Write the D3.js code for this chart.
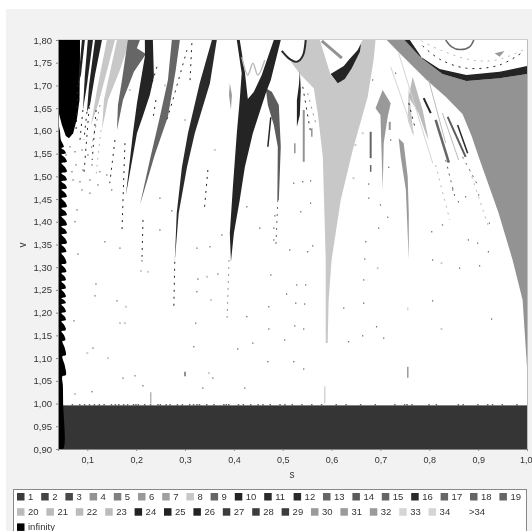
<!DOCTYPE html>
<html>
<head>
<meta charset="utf-8">
<script src="https://cdn.jsdelivr.net/npm/d3@7"></script>
<style>
  html, body { margin: 0; padding: 0; background: #fff; overflow: hidden; }
  svg { display: block; filter: blur(0.45px); }
  text { font-family: "Liberation Sans", Arial, sans-serif; fill: #333; }
</style>
</head>
<body>
<div id="chart"></div>
<script>
// legend entries, grey per escape-time level
var levelLabels = ["1","2","3","4","5","6","7","8","9","10","11","12","13","14","15","16","17","18","19",
  "20","21","22","23","24","25","26","27","28","29","30","31","32","33","34",">34","infinity"];
var levelGreys = ["#3c3c3c","#444444","#484848","#939393","#808080","#999999","#a0a0a0","#c8c8c8","#666666","#242424",
  "#2a2a2a","#2a2a2a","#666666","#5c5c5c","#666666","#2a2a2a","#666666","#666666","#666666",
  "#bbbbbb","#bbbbbb","#bbbbbb","#bbbbbb","#222222","#222222","#222222","#3c3c3c","#3c3c3c","#3c3c3c",
  "#9a9a9a","#9a9a9a","#9a9a9a","#d5d5d5","#d5d5d5","#ffffff","#000000"];

var sTicks = [0.1, 0.2, 0.3, 0.4, 0.5, 0.6, 0.7, 0.8, 0.9, 1.0];
var vTicks = [0.9, 0.95, 1.0, 1.05, 1.1, 1.15, 1.2, 1.25, 1.3, 1.35, 1.4, 1.45, 1.5, 1.55, 1.6, 1.65, 1.7, 1.75, 1.8];

// filled regions of the (s, v) plane
var infinityBlob = [[.04,1.8],[.085,1.8],[.085,1.756],[.084,1.668],[.079,1.628],[.071,1.595],[.0625,1.584],[.056,1.589],[.048,1.613],[.04,1.646]];
var stripeA = [[.1157,1.8],[.13,1.8],[.1157,1.723],[.1055,1.657],[.0993,1.642],[.1034,1.699]];
var stripeB = [[.089,1.8],[.095,1.8],[.087,1.723],[.081,1.701]];
var stripeC = [[.101,1.8],[.1116,1.8],[.0993,1.701],[.091,1.646],[.095,1.723]];
var lightWedge1 = [[.14,1.8],[.1566,1.8],[.138,1.723],[.1218,1.657],[.1075,1.613],[.1197,1.69]];
var lightWedge2 = [[.1607,1.8],[.187,1.8],[.1668,1.734],[.1423,1.668],[.13,1.602],[.134,1.668]];
var greyWedge1 = [[.183,1.8],[.2077,1.8],[.2015,1.782],[.22,1.769],[.1954,1.73],[.173,1.668],[.1607,1.602],[.1627,1.657],[.171,1.712]];
var darkWedge1 = [[.2178,1.8],[.2342,1.8],[.2363,1.719],[.228,1.679],[.2138,1.633],[.2016,1.595],[.179,1.459],[.1934,1.595],[.2016,1.661],[.218,1.765]];
var greyWedge2 = [[.273,1.8],[.2895,1.8],[.281,1.734],[.265,1.631],[.238,1.547],[.2077,1.437],[.228,1.536],[.2486,1.631],[.265,1.712]];
var darkWedge2 = [[.355,1.8],[.365,1.8],[.351,1.705],[.32,1.595],[.304,1.52],[.287,1.419],[.279,1.312],[.283,1.419],[.2936,1.52],[.306,1.595],[.33,1.705]];
var darkArch = [[.406,1.8],[.412,1.8],[.4224,1.73],[.4286,1.67],[.441,1.686],[.457,1.723],[.4817,1.8],[.496,1.8],[.4756,1.712],[.4653,1.683],
  [.4388,1.595],[.4224,1.52],[.412,1.448],[.40,1.375],[.394,1.312],[.3917,1.375],[.398,1.477],[.406,1.595],[.412,1.668],[.416,1.727]];
var greyWedge3 = [[.4653,1.694],[.4776,1.686],[.492,1.657],[.496,1.565],[.492,1.448],[.489,1.448],[.4899,1.565],[.4817,1.613],[.4695,1.657]];
var smallWedge = [[.3917,1.705],[.396,1.679],[.394,1.646],[.39,1.679]];
var needle = [[.535,1.732],[.537,1.69],[.535,1.635],[.529,1.609],[.529,1.668],[.533,1.70]];
var lightBasin = [[.5165,1.752],[.529,1.749],[.541,1.765],[.547,1.8],[.576,1.8],[.598,1.723],[.6126,1.705],[.637,1.738],[.6596,1.793],[.6637,1.8],[.69,1.8],
  [.686,1.756],[.674,1.675],[.6433,1.558],[.6187,1.448],[.6,1.316],[.594,1.228],[.592,1.133],[.588,1.133],[.588,1.316],[.582,1.543],[.5717,1.639],[.5635,1.694],[.537,1.723]];
var darkBlob = [[.598,1.725],[.625,1.743],[.635,1.756],[.6535,1.778],[.66,1.791],[.658,1.774],[.6413,1.738],[.627,1.714],[.6126,1.705]];
var midWedge = [[.7046,1.69],[.721,1.661],[.7149,1.631],[.7067,1.573],[.7046,1.47],[.7,1.635],[.69,1.65]];
var lowerWedge = [[.7373,1.584],[.7476,1.573],[.7558,1.499],[.758,1.419],[.758,1.316],[.752,1.47],[.7415,1.543]];
var cluster1 = [[.766,1.719],[.7864,1.646],[.7987,1.58],[.7926,1.595],[.778,1.639],[.7578,1.675]];
var cluster2 = [[.7578,1.697],[.768,1.587],[.7558,1.624]];
var bigGrey = [[.7128,1.8],[.76,1.8],[.7864,1.758],[.827,1.725],[.876,1.71],[.944,1.716],[1,1.725],[1,1.08],[.991,1.228],[.9705,1.316],[.942,1.419],
  [.901,1.543],[.8866,1.589],[.868,1.637],[.8335,1.675],[.7967,1.71],[.7394,1.771]];
var darkArc = [[.7496,1.8],[.78,1.765],[.821,1.736],[.876,1.723],[.944,1.73],[1,1.743],[1,1.725],[.944,1.716],[.876,1.71],[.827,1.725],[.7864,1.758],[.76,1.8]];
var smallTriangle = [[.9337,1.771],[.954,1.776],[.944,1.763]];

var regions = [
  [lightWedge1, 8], [lightWedge2, 8], [stripeA, 24], [stripeB, 24], [stripeC, 24], [greyWedge1, 9], [darkWedge1, 10],
  [greyWedge2, 13], [darkWedge2, 16], [greyWedge3, 14], [darkArch, 10], [smallWedge, 6], [lightBasin, 8], [darkBlob, 10],
  [needle, 10], [midWedge, 6], [lowerWedge, 6], [cluster2, 8], [cluster1, 20], [bigGrey, 4], [darkArc, 10], [smallTriangle, 6]
];

// scallops along the left edge: tip height and tip reach
var scallopV = [1.565,1.551,1.532,1.51,1.492,1.474,1.455,1.433,1.415,1.393,1.375,1.353,1.334,1.309,1.29,1.272,1.254,1.235,1.221,1.202,1.184,1.162,1.14,1.107,1.063];
var scallopS = [.052,.056,.058,.058,.058,.058,.058,.058,.058,.058,.058,.058,.057,.057,.057,.056,.056,.056,.056,.056,.056,.056,.055,.056,.056];

// thin curves: [level, width, points]
var thinCurves = [
  [11, 2, [[.498,1.776],[.5144,1.758],[.529,1.752],[.541,1.765],[.547,1.8]]],
  [13, 1.5, [[.8335,1.8],[.846,1.785],[.862,1.779],[.8825,1.785],[.891,1.8]]],
  [20, 1.5, [[.4163,1.763],[.4286,1.723],[.439,1.749],[.449,1.723],[.4633,1.756]]]
];
var thinLines = [
  [4, 3, [[.58,1.798],[.621,1.76]]],
  [10, 2, [[.7885,1.672],[.803,1.639]]],
  [13, 2.5, [[.813,1.624],[.84,1.53]]],
  [14, 2, [[.8376,1.631],[.8744,1.543]]],
  [16, 1.5, [[.858,1.613],[.8785,1.551]]],
  [33, 1, [[.721,1.741],[.768,1.595]]],
  [33, 1, [[.7373,1.771],[.807,1.529]]],
  [20, 1, [[.7987,1.712],[.8335,1.573]]],
  [20, 1, [[.827,1.639],[.8601,1.536]]],
  [4, 2, [[.719,1.62],[.719,1.602]]],
  [13, 2, [[.68,1.598],[.68,1.54]]],
  [13, 1.5, [[.68,1.525],[.68,1.51]]],
  [8, 1, [[.756,1.212],[.756,1.205]]],
  [6, 1.5, [[.756,1.081],[.756,1.057]]],
  [33, 1.5, [[.586,1.038],[.586,1]]],
  [4, 2, [[.543,1.646],[.543,1.532]]],
  [4, 1.5, [[.5595,1.606],[.5595,1.587]]],
  [4, 1.5, [[.5247,1.573],[.5247,1.551]]],
  [10, 1.5, [[.4756,1.63],[.4695,1.565]]],
  [4, 1, [[.23,1.025],[.23,1]]],
  [10, 1, [[.3,1.07],[.3,1.06]]]
];

// dotted curves between the wedges
var dottedLines = [
  [10, [[.0993,1.642],[.093,1.58]]],
  [10, [[.081,1.701],[.077,1.602]]],
  [10, [[.091,1.646],[.085,1.58]]],
  [4, [[.126,1.657],[.1075,1.558]]],
  [10, [[.1566,1.58],[.146,1.485]]],
  [10, [[.177,1.573],[.171,1.382]]],
  [10, [[.214,1.404],[.212,1.323]]],
  [10, [[.304,1.778],[.275,1.668],[.263,1.624]]],
  [10, [[.3468,1.514],[.34,1.433]]],
  [10, [[.314,1.793],[.31,1.705]]],
  [10, [[.2425,1.741],[.222,1.668]]],
  [10, [[.2404,1.668],[.234,1.624]]],
  [10, [[.279,1.312],[.277,1.206]]],
  [6, [[.39,1.316],[.386,1.184]]],
  [13, [[.49,1.448],[.486,1.349]]],
  [10, [[.105,1.668],[.093,1.505]]],
  [10, [[.118,1.646],[.11,1.536]]],
  [20, [[.128,1.602],[.118,1.503]]],
  [9, [[.868,1.543],[.901,1.477]]],
  [9, [[.8335,1.536],[.854,1.448]]],
  [20, [[.813,1.525],[.842,1.404]]],
  [20, [[.8825,1.514],[.9235,1.382]]],
  [10, [[.541,1.697],[.5574,1.595]]],
  [4, [[.551,1.683],[.5676,1.617]]],
  [10, [[.758,1.661],[.772,1.602]]],
  [10, [[.7864,1.787],[.821,1.758],[.876,1.738],[.944,1.745],[.995,1.776]]],
  [20, [[.784,1.798],[.827,1.776],[.8866,1.756],[.938,1.756],[1,1.782]]]
];

// isolated points
var darkSpecks = [[.0727,1.182],[.1095,1.026],[.2138,1.039],[.1975,1.061],[.173,1.056],[.1116,1.122],[.1177,1.263],[.1157,1.237],[.1607,1.226],[.2118,1.314],
  [.3263,1.274],[.3672,1.285],[.3243,1.246],[.322,1.177],[.318,1.125],[.408,1.12],[.4388,1.133],[.4265,1.191],[.357,1.056],[.3365,1.034],[.4224,1.034],
  [.4756,1.283],[.5288,1.261],[.547,1.261],[.508,1.241],[.5267,1.221],[.545,1.219],[.4715,1.213],[.5247,1.171],[.543,1.164],[.4715,1.164],[.504,1.14],
  [.4695,1.092],[.5226,1.092],[.543,1.076],[.6658,1.272],[.6658,1.221],[.625,1.21],[.635,1.136],[.6637,1.149],[.692,1.169],[.7067,1.144],[.8069,1.226],
  [.9275,1.186],[.862,1.298],[.903,1.303],[.8069,1.316],[.537,1.422],[.557,1.441],[.5144,1.338],[.551,1.334],[.5615,1.347],[.4817,1.36],[.4817,1.386],
  [.484,1.413],[.5226,1.485],[.541,1.488],[.557,1.49],[.676,1.483],[.676,1.452],[.7,1.437],[.715,1.41],[.6964,1.386],[.67,1.356],[.668,1.318],[.805,1.378],
  [.827,1.393],[.88,1.36],[.899,1.353],[.921,1.334],[.923,1.397],[.901,1.459],[.8744,1.455],[.848,1.47],[.8597,1.444],[.684,1.712],[.731,1.727],[.721,1.58],
  [.717,1.52],[.0789,1.426],[.0748,1.4],[.136,1.356],[.1668,1.342],[.081,1.329],[.2486,1.382],[.273,1.424],[.3754,1.371],[.351,1.345],[.3243,1.342],[.453,1.386],
  [.4265,1.433],[.2486,1.452],[.1054,1.463],[.089,1.47],[.0707,1.492],[.0645,1.565],[.0748,1.554],[.089,1.558],[.1013,1.547],[.0768,1.525],[.0911,1.514],
  [.1095,1.525],[.1259,1.51],[.0686,1.51],[.085,1.488],[.1054,1.492],[.1218,1.481],[.14,1.503],[.15,1.47],[.0564,1.547]];
var lightSpecks = [[.0748,1.021],[.1423,1.1],[.1,1.111],[.179,1.213],[.1668,1.177],[.177,1.177],[.21,1.292],[.224,1.29],[.345,1.279],[.353,1.228],[.349,1.067],
  [.825,1.164],[.825,1.309],[.6944,1.298],[.649,1.569],[.6637,1.595],[.645,1.496],[.3,1.624],[.361,1.558],[.187,1.69],[.259,1.7]];
var bandBumps = [.07,.085,.095,.105,.115,.125,.135,.15,.158,.165,.175,.183,.195,.2,.205,.218,.23,.245,.25,.262,.27,.285,.295,.31,.318,.325,.33,.345,.36,.38,.385,.39,
  .41,.42,.435,.45,.46,.475,.495,.505,.52,.54,.56,.58,.61,.63,.66,.69,.73,.75,.755,.765,.8,.815,.86,.87,.9,.92,.93,.95,.98];

var svgWidth = 532;
var svgHeight = 531;
var plot = { left: 58, right: 527, top: 40, bottom: 449 };

var xScale = d3.scaleLinear().domain([0.04, 1]).range([plot.left, plot.right]);
var yScale = d3.scaleLinear().domain([0.9, 1.8]).range([plot.bottom, plot.top]);

function level(n) { return levelGreys[n - 1]; }

var svg = d3.select("#chart").append("svg")
  .attr("width", svgWidth)
  .attr("height", svgHeight);

// outer panel
svg.append("rect").attr("x", 6).attr("y", 9).attr("width", svgWidth - 6).attr("height", svgHeight - 9).attr("fill", "#f2f2f2");

// plot background
svg.append("rect")
  .attr("x", plot.left).attr("y", plot.top)
  .attr("width", plot.right - plot.left).attr("height", plot.bottom - plot.top)
  .attr("fill", "#fff");

svg.append("clipPath").attr("id", "plotClip").append("rect")
  .attr("x", plot.left).attr("y", plot.top)
  .attr("width", plot.right - plot.left).attr("height", plot.bottom - plot.top);

var chartGroup = svg.append("g").attr("clip-path", "url(#plotClip)");

var polyLine = d3.line().x(d => xScale(d[0])).y(d => yScale(d[1]));
var smoothLine = d3.line().x(d => xScale(d[0])).y(d => yScale(d[1])).curve(d3.curveCatmullRom);

// converged band along the bottom
chartGroup.append("rect")
  .attr("x", xScale(0.05)).attr("y", yScale(0.996))
  .attr("width", xScale(1) - xScale(0.05)).attr("height", yScale(0.9) - yScale(0.996))
  .attr("fill", "#353535");

chartGroup.selectAll(".bump").data(bandBumps).enter().append("rect")
  .attr("class", "bump")
  .attr("x", d => xScale(d) - 1).attr("y", yScale(0.999))
  .attr("width", 1.5).attr("height", yScale(0.995) - yScale(0.999))
  .attr("fill", "#666");

// scalloped strip on the left
var stripOutline = [[.04,1.62],[.044,1.6],[.046,1.58]];
scallopV.forEach(function(v, i) {
  var tip = scallopS[i];
  var notch = v > 1.15 ? .047 : .049;
  stripOutline.push([tip, v]);
  stripOutline.push([notch, v - .003]);
  if (i < scallopV.length - 1) {
    stripOutline.push([notch + (scallopS[i + 1] - notch) * .7, (v + scallopV[i + 1]) / 2 - .001]);
  }
});
stripOutline = stripOutline.concat([[.05,1.04],[.0505,1],[.0505,.9],[.04,.9]]);

chartGroup.append("path")
  .attr("d", smoothLine(stripOutline) + "Z")
  .attr("fill", "#000");

chartGroup.append("path")
  .attr("d", polyLine(infinityBlob) + "Z")
  .attr("fill", "#000");

chartGroup.selectAll(".region").data(regions).enter().append("path")
  .attr("class", "region")
  .attr("d", d => polyLine(d[0]) + "Z")
  .attr("fill", d => level(d[1]));

chartGroup.selectAll(".curved").data(thinCurves).enter().append("path")
  .attr("class", "curved")
  .attr("d", d => smoothLine(d[2]))
  .attr("fill", "none")
  .attr("stroke", d => level(d[0]))
  .attr("stroke-width", d => d[1]);

chartGroup.selectAll(".thin").data(thinLines).enter().append("path")
  .attr("class", "thin")
  .attr("d", d => polyLine(d[2]))
  .attr("fill", "none")
  .attr("stroke", d => level(d[0]))
  .attr("stroke-width", d => d[1]);

chartGroup.selectAll(".dotted").data(dottedLines).enter().append("path")
  .attr("class", "dotted")
  .attr("d", d => smoothLine(d[1]))
  .attr("fill", "none")
  .attr("stroke", d => level(d[0]))
  .attr("stroke-width", 1)
  .attr("stroke-dasharray", "2 5");

chartGroup.selectAll(".dark").data(darkSpecks).enter().append("rect")
  .attr("class", "dark")
  .attr("x", d => xScale(d[0]) - .6).attr("y", d => yScale(d[1]) - .6)
  .attr("width", 1.2).attr("height", 1.2)
  .attr("fill", "#555");

chartGroup.selectAll(".light").data(lightSpecks).enter().append("rect")
  .attr("class", "light")
  .attr("x", d => xScale(d[0]) - 1).attr("y", d => yScale(d[1]) - 1)
  .attr("width", 2).attr("height", 2)
  .attr("fill", "#ccc");

// plot outline
svg.append("line").attr("x1", plot.left).attr("x2", plot.right + 1).attr("y1", plot.top - .5).attr("y2", plot.top - .5).attr("stroke", "#cfcfcf");
svg.append("line").attr("x1", plot.right + .5).attr("x2", plot.right + .5).attr("y1", plot.top).attr("y2", plot.bottom).attr("stroke", "#bdbdbd");

// axes
var commaFormat = f => d => d3.format(f)(d).replace(".", ",");

var bottomAxis = d3.axisBottom(xScale).tickValues(sTicks).tickFormat(commaFormat(".1f")).tickSize(2).tickPadding(6);
var leftAxis = d3.axisLeft(yScale).tickValues(vTicks).tickFormat(commaFormat(".2f")).tickSize(2).tickPadding(4);

var xAxis = svg.append("g").attr("transform", `translate(0, ${plot.bottom})`).call(bottomAxis);
var yAxis = svg.append("g").attr("transform", `translate(${plot.left}, 0)`).call(leftAxis);

[xAxis, yAxis].forEach(function(axis) {
  axis.selectAll("path, line").attr("stroke", "#888");
  axis.selectAll("text").attr("font-size", "9.5px").attr("fill", "#333");
});
xAxis.selectAll("text").attr("font-size", "9px");
// last label would run off the window
xAxis.selectAll("text").filter(d => d === 1).attr("text-anchor", "end").attr("x", 5);

svg.append("text").attr("x", 292).attr("y", 478).attr("text-anchor", "middle").attr("font-size", "10px").text("s");
svg.append("text").attr("transform", "translate(26, 245) rotate(-90)").attr("text-anchor", "middle").attr("font-size", "10px").text("v");

// legend
svg.append("rect")
  .attr("x", 13.5).attr("y", 489.5).attr("width", 513).attr("height", 50)
  .attr("fill", "#fff").attr("stroke", "#888");

var legendX = 17;
var legendRow = 0;
var legendRowBreaks = ["20", "infinity"];
levelLabels.forEach(function(label, i) {
  if (legendRowBreaks.indexOf(label) >= 0) {
    legendX = 17;
    legendRow += 1;
  }
  var rowY = 493 + legendRow * 15.2;
  svg.append("rect")
    .attr("x", legendX).attr("y", rowY).attr("width", 7.5).attr("height", 7.5)
    .attr("fill", levelGreys[i]);
  svg.append("text")
    .attr("x", legendX + 11).attr("y", rowY + 7)
    .attr("font-size", "9.5px")
    .text(label);
  legendX += label.length === 1 ? 24.2 : 29.4;
});
</script>
</body>
</html>
